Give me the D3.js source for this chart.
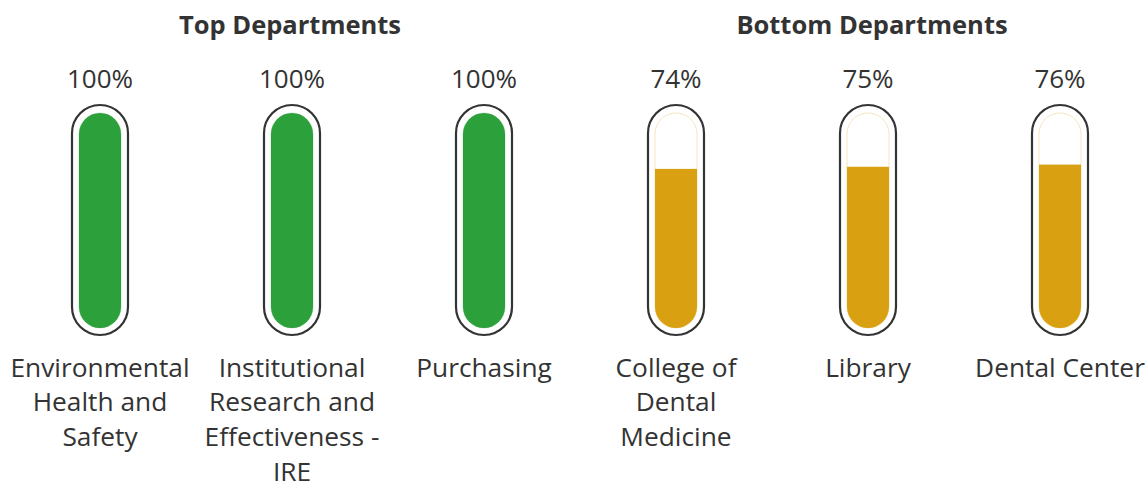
<!DOCTYPE html>
<html>
<head>
<meta charset="utf-8">
<script src="https://cdn.jsdelivr.net/npm/d3@7"></script>
<style>
  html, body { margin: 0; padding: 0; background: #ffffff; }
  svg { display: block; font-family: "Open Sans", sans-serif; }
</style>
</head>
<body>
<svg id="chart" width="1147" height="485"></svg>
<script>
// Department completion rates
const topDepartments = ["Environmental Health and Safety", "Institutional Research and Effectiveness - IRE", "Purchasing"];
const topValues = [100, 100, 100];
const bottomDepartments = ["College of Dental Medicine", "Library", "Dental Center"];
const bottomValues = [74, 75, 76];
const groupTitles = ["Top Departments", "Bottom Departments"];
const groupColors = ["#2ca03a", "#d9a012"];

const width = 1147, height = 485;
const svg = d3.select("#chart");

const rows = [
  ...topDepartments.map((name, i) => ({ name, value: topValues[i], group: 0 })),
  ...bottomDepartments.map((name, i) => ({ name, value: bottomValues[i], group: 1 }))
];

// horizontal placement of each thermometer
const x = d3.scalePoint().domain(rows.map(d => d.name)).range([100, 1060]);

// thermometer geometry
const outerW = 56, outerTop = 105, outerBottom = 335;
const innerW = 42, innerTop = 113, innerBottom = 328;
const y = d3.scaleLinear().domain([0, 100]).range([innerBottom, innerTop]);

// group titles
const titleX = [x(topDepartments[1]) - 2, (x(bottomDepartments[0]) + x(bottomDepartments[2])) / 2 + 4];
svg.selectAll("text.title").data(groupTitles).join("text")
  .attr("class", "title")
  .attr("x", (d, i) => titleX[i])
  .attr("y", 33.5)
  .attr("text-anchor", "middle")
  .attr("font-size", 25.5)
  .attr("font-weight", 700)
  .attr("fill", "#333333")
  .text(d => d);

const defs = svg.append("defs");
defs.selectAll("clipPath").data(rows).join("clipPath")
  .attr("id", (d, i) => "tube" + i)
  .append("rect")
  .attr("x", d => x(d.name) - innerW / 2)
  .attr("y", innerTop)
  .attr("width", innerW)
  .attr("height", innerBottom - innerTop)
  .attr("rx", innerW / 2);

const g = svg.selectAll("g.thermo").data(rows).join("g").attr("class", "thermo");

// outer glass
g.append("rect")
  .attr("x", d => x(d.name) - outerW / 2)
  .attr("y", outerTop)
  .attr("width", outerW)
  .attr("height", outerBottom - outerTop)
  .attr("rx", outerW / 2)
  .attr("fill", "#ffffff")
  .attr("stroke", "#333333")
  .attr("stroke-width", 2.2);

// inner tube outline
g.append("rect")
  .attr("x", d => x(d.name) - innerW / 2)
  .attr("y", innerTop)
  .attr("width", innerW)
  .attr("height", innerBottom - innerTop)
  .attr("rx", innerW / 2)
  .attr("fill", "#ffffff")
  .attr("stroke", d => d.group ? "#f6e6c0" : "#cfe8d2")
  .attr("stroke-width", 1);

// fill level
g.append("rect")
  .attr("clip-path", (d, i) => `url(#tube${i})`)
  .attr("x", d => x(d.name) - innerW / 2)
  .attr("y", d => y(d.value))
  .attr("width", innerW)
  .attr("height", d => innerBottom - y(d.value))
  .attr("fill", d => groupColors[d.group]);

// value labels
g.append("text")
  .attr("x", d => x(d.name))
  .attr("y", 88)
  .attr("text-anchor", "middle")
  .attr("font-size", 26)
  .attr("fill", "#333333")
  .text(d => d.value + "%");

// category labels, wrapped to a fixed width
const wrapWidth = 188;
const labels = g.append("text")
  .attr("x", d => x(d.name))
  .attr("y", 376.5)
  .attr("text-anchor", "middle")
  .attr("font-size", 26.3)
  .attr("fill", "#333333");

labels.each(function(d) {
  const t = d3.select(this);
  const words = d.name.split(/\s+/);
  const lines = [];
  let line = [];
  const probe = t.append("tspan");
  words.forEach(w => {
    const test = line.concat(w).join(" ");
    probe.text(test);
    if (probe.node().getComputedTextLength() > wrapWidth && line.length) {
      lines.push(line.join(" "));
      line = [w];
    } else {
      line.push(w);
    }
  });
  if (line.length) lines.push(line.join(" "));
  probe.remove();
  lines.forEach((l, i) => {
    t.append("tspan")
      .attr("x", x(d.name))
      .attr("dy", i === 0 ? 0 : 34.8)
      .text(l);
  });
});
</script>
</body>
</html>
